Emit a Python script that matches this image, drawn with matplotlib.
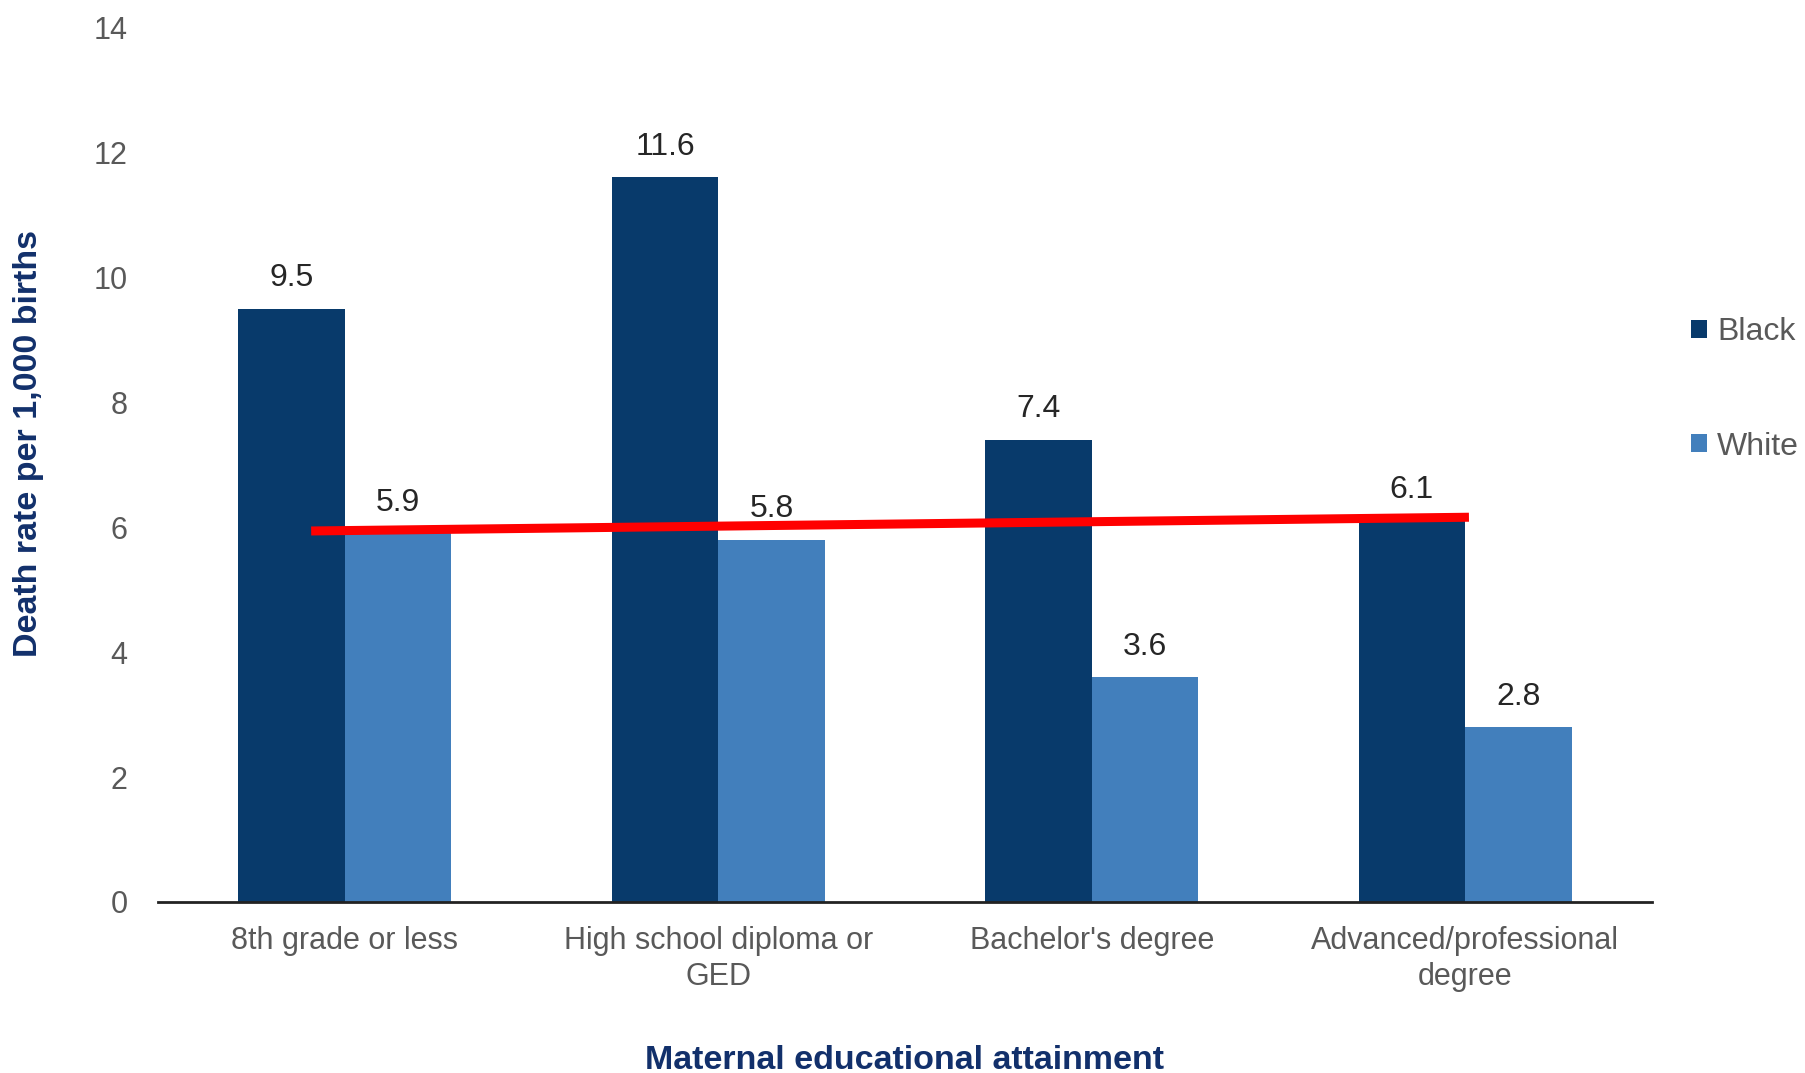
import matplotlib.pyplot as plt
import numpy as np

plt.rcParams['font.family'] = ['Liberation Sans', 'DejaVu Sans']

# data
categories = ["8th grade or less", "High school diploma or\nGED",
              "Bachelor's degree", "Advanced/professional\ndegree"]
black_rates = [9.5, 11.6, 7.4, 6.1]
white_rates = [5.9, 5.8, 3.6, 2.8]
# red reference line drawn on top (start / end in data units)
line_x = [-0.09, 3.01]
line_y = [5.94, 6.16]
y_ticks = [0, 2, 4, 6, 8, 10, 12, 14]

BLACK_C = '#083a6b'
WHITE_C = '#427fbc'
NAVY = '#12306b'
GRAY = '#595959'

fig = plt.figure(figsize=(18.06, 10.73), dpi=100)
ax = fig.add_axes([0.0875, 0.1594, 0.8272, 0.8149])

x = np.arange(len(categories))
w = 0.285
b1 = ax.bar(x - w / 2, black_rates, w, color=BLACK_C, label='Black', zorder=2)
b2 = ax.bar(x + w / 2, white_rates, w, color=WHITE_C, label='White', zorder=2)

for bars, vals in [(b1, black_rates), (b2, white_rates)]:
    for rect, v in zip(bars, vals):
        ax.annotate(f"{v}", (rect.get_x() + rect.get_width() / 2, v),
                    xytext=(0, 22), textcoords='offset points',
                    ha='center', va='center', fontsize=23, color='#262626',
                    zorder=4)

ax.plot(line_x, line_y, color='#ff0000', lw=6.5, solid_capstyle='butt', zorder=3)

ax.set_xlim(-0.5, 3.5)
ax.set_ylim(0, 14)
ax.set_yticks(y_ticks)
ax.set_xticks(x)
ax.set_xticklabels(categories, fontsize=22, color=GRAY, linespacing=1.3)
ax.tick_params(axis='y', length=0, pad=22, labelsize=22, labelcolor=GRAY)
ax.tick_params(axis='x', length=0, pad=17)

for s in ['top', 'right', 'left']:
    ax.spines[s].set_visible(False)
ax.spines['bottom'].set_linewidth(2)
ax.spines['bottom'].set_color('#222222')

fig.text(0.016, 0.587, "Death rate per 1,000 births", rotation=90,
         ha='center', va='center', fontsize=24.5, fontweight='bold', color=NAVY)
fig.text(0.5006, 0.012, "Maternal educational attainment",
         ha='center', va='center', fontsize=24.5, fontweight='bold', color=NAVY)

leg = fig.legend(handles=[b1, b2], loc='center left',
                 bbox_to_anchor=(0.9295, 0.637), frameon=False,
                 fontsize=23, handlelength=0.5, handleheight=0.5,
                 handletextpad=0.3, labelspacing=2.63, borderaxespad=0)
for t in leg.get_texts():
    t.set_color(GRAY)

fig.savefig('out.png', dpi=100)
